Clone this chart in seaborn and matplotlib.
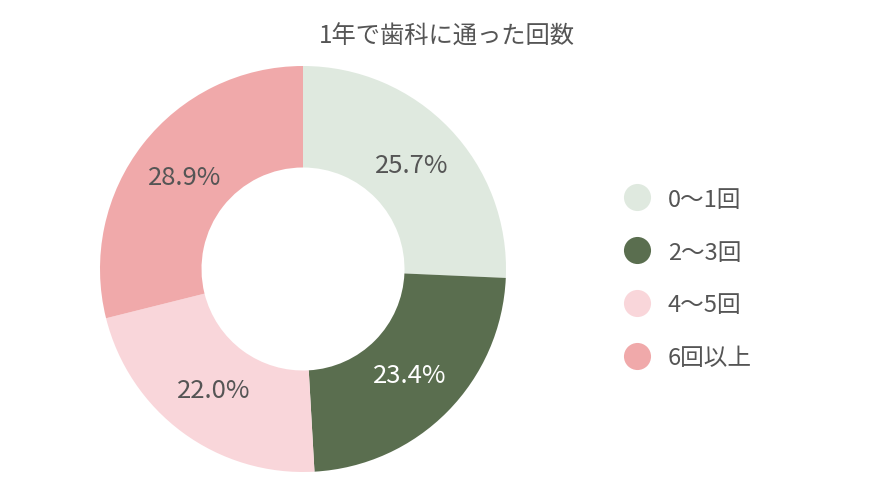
import matplotlib
matplotlib.use("Agg")
import matplotlib.pyplot as plt
from matplotlib.lines import Line2D
import seaborn as sns

categories = ["0〜1回", "2〜3回", "4〜5回", "6回以上"]
values = [25.7, 23.4, 22.0, 28.9]
colors = ["#dfe9df", "#5a6e4f", "#f9d6da", "#f0a9aa"]
label_colors = ["#555555", "#ffffff", "#555555", "#555555"]
title = "1年で歯科に通った回数"

sns.set_theme(style="white")
plt.rcParams["font.family"] = ["Noto Sans CJK JP", "DejaVu Sans"]

fig = plt.figure(figsize=(8.94, 5.02), dpi=100)
r = 203
cx, cy = 303, 270
ax = fig.add_axes([(cx - r) / 894, (502 - cy - r) / 502, 2 * r / 894, 2 * r / 502])
wedges, texts, autotexts = ax.pie(
    values,
    colors=colors,
    startangle=90,
    counterclock=False,
    autopct="%.1f%%",
    pctdistance=0.74,
    radius=1.0,
    wedgeprops=dict(width=0.5, edgecolor="none", linewidth=0),
    textprops=dict(fontsize=18.5),
)
for t, c in zip(autotexts, label_colors):
    t.set_color(c)
ax.set_xlim(-1, 1)
ax.set_ylim(-1, 1)
ax.set_aspect("equal")
ax.axis("off")

fig.text(447 / 894, 1 - 37 / 502, title, ha="center", va="center",
         fontsize=17.5, color="#555555")

handles = [Line2D([0], [0], marker="o", linestyle="none", markersize=19.5,
                  markerfacecolor=c, markeredgecolor="none") for c in colors]
leg = fig.legend(handles, categories, loc="center left",
                 bbox_to_anchor=(623 / 894, 1 - 279.5 / 502),
                 frameon=False, fontsize=17, labelspacing=1.27,
                 handletextpad=0.7, borderaxespad=0, borderpad=0,
                 handlelength=1.2)
for t in leg.get_texts():
    t.set_color("#555555")

fig.savefig("out.png", dpi=100, facecolor="white")
